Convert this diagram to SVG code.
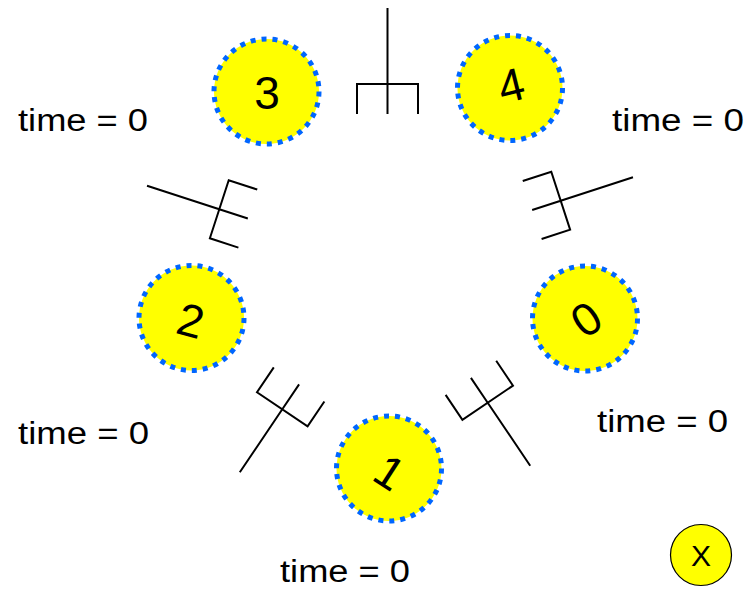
<svg xmlns="http://www.w3.org/2000/svg" width="751" height="589" viewBox="0 0 751 589">
<style>
.phil{fill:#ffff00;stroke:#0066ff;stroke-width:5;stroke-dasharray:5 6}
.num{font-family:"Liberation Sans",Arial,sans-serif;font-size:46px;fill:#000;text-anchor:middle}
.lbl{font-family:"Liberation Sans",Arial,sans-serif;font-size:31px;fill:#000}
.fork{fill:none;stroke:#000;stroke-width:2}
</style>
<defs>
<path id="forkShape" d="M0,-76 L0,0 M-30.5,30 L-30.5,0 L30.5,0 L30.5,30 M0,0 L0,30"/>
</defs>
<rect width="751" height="589" fill="#fff"/>
<g id="connectors" class="fork">
<use href="#forkShape" transform="translate(387.5,84)"/>
<use href="#forkShape" transform="translate(219.3,209.3) rotate(-72)"/>
<use href="#forkShape" transform="translate(560.7,200.7) rotate(72)"/>
<use href="#forkShape" transform="translate(282.3,409.3) rotate(-146)"/>
<use href="#forkShape" transform="translate(487.7,402.7) rotate(146)"/>
</g>
<g id="p3">
<circle class="phil" cx="266.5" cy="91.5" r="52.5"/>
<text class="num" x="267" y="109">3</text>
</g>
<g id="p4">
<circle class="phil" cx="510" cy="88" r="52.5"/>
<text class="num" transform="translate(511,85) rotate(-14)" x="0" y="16.5">4</text>
</g>
<g id="p2">
<circle class="phil" cx="191.5" cy="318" r="52.5"/>
<text class="num" transform="translate(191,320) rotate(15)" x="0" y="16.5">2</text>
</g>
<g id="p0">
<circle class="phil" cx="585" cy="318.5" r="52.5"/>
<text class="num" transform="translate(586,319) rotate(-35)" x="0" y="16.5">0</text>
</g>
<g id="p1">
<circle class="phil" cx="389" cy="468.5" r="52.5"/>
<text class="num" transform="translate(390,472) rotate(33)" x="0" y="16.5">1</text>
</g>
<g id="labels">
<text class="lbl" x="18" y="131" textLength="130" lengthAdjust="spacingAndGlyphs">time = 0</text>
<text class="lbl" x="612" y="131" textLength="132" lengthAdjust="spacingAndGlyphs">time = 0</text>
<text class="lbl" x="18" y="444" textLength="131" lengthAdjust="spacingAndGlyphs">time = 0</text>
<text class="lbl" x="597" y="432" textLength="131" lengthAdjust="spacingAndGlyphs">time = 0</text>
<text class="lbl" x="280" y="582" textLength="130" lengthAdjust="spacingAndGlyphs">time = 0</text>
</g>
<g id="x">
<circle cx="701" cy="555" r="30.5" fill="#ffff00" stroke="#000" stroke-width="1.2"/>
<text x="701" y="566" font-family="Liberation Sans,Arial,sans-serif" font-size="30" text-anchor="middle">X</text>
</g>
</svg>
